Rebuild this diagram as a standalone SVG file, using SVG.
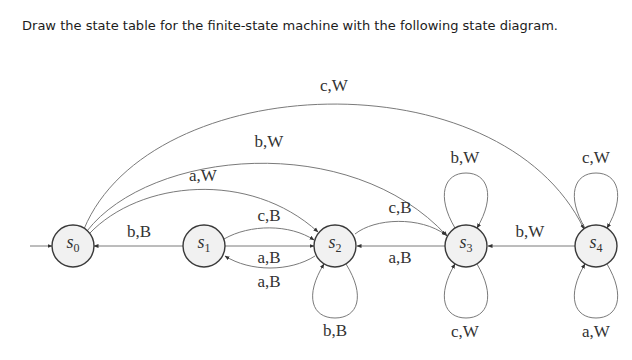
<svg xmlns="http://www.w3.org/2000/svg" width="632" height="360" viewBox="0 0 632 360">
<style>
.title{font-family:"DejaVu Sans Condensed","DejaVu Sans",sans-serif;font-size:13px;fill:#1c1c1c}
.node circle{fill:#f1f1f1;stroke:#3a3a3a;stroke-width:1.4}
.node text{font-family:"Liberation Serif",serif;font-style:italic;font-size:18px;fill:#333;text-anchor:middle}
.node tspan{font-style:normal;font-size:12px}
.edges path{fill:none;stroke:#7a7a7a;stroke-width:1;marker-end:url(#arr)}
.lbl{font-family:"Liberation Serif",serif;font-size:17px;fill:#333;text-anchor:middle}
</style>
<defs>
<marker id="arr" viewBox="0 0 10 10" refX="9" refY="5" markerWidth="5" markerHeight="5" orient="auto" markerUnits="userSpaceOnUse">
<path d="M0,1 L10,5 L0,9 z" fill="#333"/>
</marker>
</defs>
<rect width="632" height="360" fill="#fff"/>
<text class="title" x="22" y="30" textLength="536" lengthAdjust="spacingAndGlyphs">Draw the state table for the finite-state machine with the following state diagram.</text>
<g class="edges">
<path d="M30,246 L52,246"/>
<path d="M183,246 L94,246"/>
<path d="M225,246 L314,246"/>
<path d="M224,239 C250,224 290,224 314,240"/>
<path d="M315,256 C290,272 250,272 225,256"/>
<path d="M89,234 C140,180 250,170 318,232"/>
<path d="M87,231 C150,150 350,130 447,236"/>
<path d="M84,229 C150,70 500,55 584,229"/>
<path d="M355,234 C375,218 420,216 446,235"/>
<path d="M445,246 L357,246"/>
<path d="M575,246 L488,246"/>
<path d="M346,264 C366,296 358,318 335,318 C312,318 304,296 324,264"/>
<path d="M455,228 C436,196 444,173 466,173 C488,173 496,196 477,228"/>
<path d="M477,264 C496,296 488,318 466,318 C444,318 436,296 455,264"/>
<path d="M585,228 C566,196 574,173 596,173 C618,173 626,196 607,228"/>
<path d="M607,264 C626,296 618,318 596,318 C574,318 566,296 585,264"/>
</g>
<g id="s0" class="node"><circle cx="73" cy="246" r="21"/><text x="73" y="248">s<tspan dy="4">0</tspan></text></g>
<g id="s1" class="node"><circle cx="204" cy="246" r="21"/><text x="204" y="248">s<tspan dy="4">1</tspan></text></g>
<g id="s2" class="node"><circle cx="335" cy="246" r="21"/><text x="335" y="248">s<tspan dy="4">2</tspan></text></g>
<g id="s3" class="node"><circle cx="466" cy="246" r="21"/><text x="466" y="248">s<tspan dy="4">3</tspan></text></g>
<g id="s4" class="node"><circle cx="596" cy="246" r="21"/><text x="596" y="248">s<tspan dy="4">4</tspan></text></g>
<g id="labels">
<text class="lbl" x="334" y="91">c,W</text>
<text class="lbl" x="269" y="147">b,W</text>
<text class="lbl" x="203" y="181">a,W</text>
<text class="lbl" x="269" y="221">c,B</text>
<text class="lbl" x="139" y="237">b,B</text>
<text class="lbl" x="269" y="263">a,B</text>
<text class="lbl" x="269" y="287">a,B</text>
<text class="lbl" x="400" y="213">c,B</text>
<text class="lbl" x="400" y="263">a,B</text>
<text class="lbl" x="335" y="336">b,B</text>
<text class="lbl" x="465" y="163">b,W</text>
<text class="lbl" x="596" y="163">c,W</text>
<text class="lbl" x="530" y="237">b,W</text>
<text class="lbl" x="465" y="337">c,W</text>
<text class="lbl" x="596" y="337">a,W</text>
</g>
</svg>
